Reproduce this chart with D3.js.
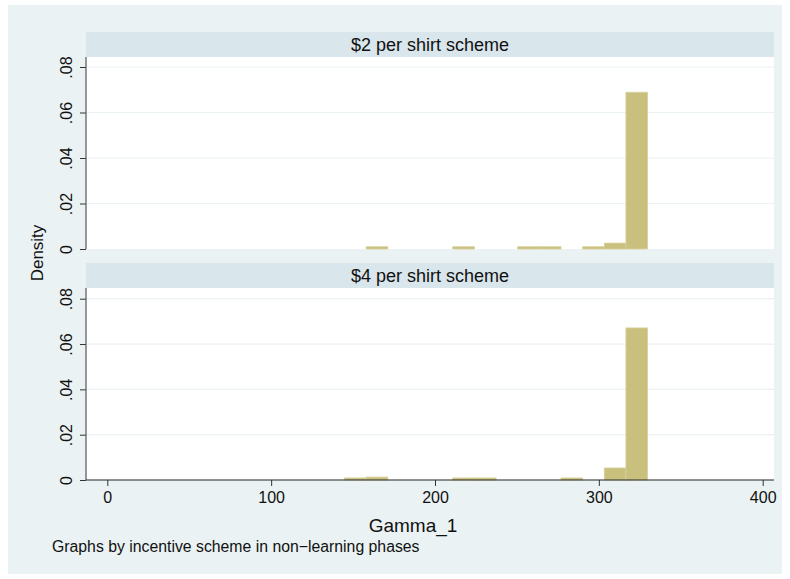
<!DOCTYPE html>
<html>
<head>
<meta charset="utf-8">
<script src="https://cdn.jsdelivr.net/npm/d3@7"></script>
<style>
  body { margin: 0; background: #ffffff; }
  text { font-family: "Liberation Sans", Arial, sans-serif; fill: #111111; }
</style>
</head>
<body>
<div id="chart"></div>
<script>
// histogram bins (Gamma_1), 14 bins starting at binLeft
const binLeft = 144.8;
const binWidth = 13.21;
const panelTitles = ['$2 per shirt scheme', '$4 per shirt scheme'];
const density2 = [0, 0.001, 0, 0, 0, 0.001, 0, 0, 0.001, 0.001, 0, 0.001, 0.0026, 0.0689];
const density4 = [0.0009, 0.0013, 0, 0, 0, 0.0009, 0.0009, 0, 0, 0, 0.0009, 0, 0.0053, 0.0671];
const xTicks = [0, 100, 200, 300, 400];
const yTicks = [0, 0.02, 0.04, 0.06, 0.08];

const width = 790, height = 579;
const bg = '#eaf2f3', strip = '#d9e6eb';
const barFill = '#cac07e', barLine = '#d8d09c';

const svg = d3.select('#chart').append('svg')
    .attr('width', width)
    .attr('height', height);

svg.append('rect')
    .attr('x', 8).attr('y', 5)
    .attr('width', 774).attr('height', 569)
    .attr('fill', bg);

const plotL = 86, plotR = 774;
const x = d3.scaleLinear().domain([0, 400]).range([107.3, 762.7]);

// panel layout: strip top, plot top, zero line, .08 line
const panels = [
    {title: panelTitles[0], data: density2, stripTop: 32, plotTop: 57, y0: 249, y8: 67, xaxis: false},
    {title: panelTitles[1], data: density4, stripTop: 263, plotTop: 288, y0: 480, y8: 298.7, xaxis: true}
];

const fmt = d => d === 0 ? '0' : d3.format('.2f')(d).replace(/^0/, '');

panels.forEach(p => {
    let y = d3.scaleLinear().domain([0, 0.08]).range([p.y0, p.y8]);
    let g = svg.append('g');

    g.append('rect')
        .attr('x', plotL).attr('y', p.stripTop)
        .attr('width', plotR - plotL).attr('height', p.plotTop - p.stripTop)
        .attr('fill', strip);
    g.append('text')
        .attr('x', (plotL + plotR) / 2).attr('y', p.plotTop - 6.5)
        .attr('text-anchor', 'middle')
        .style('font-size', '18px')
        .text(p.title);

    g.append('rect')
        .attr('x', plotL).attr('y', p.plotTop)
        .attr('width', plotR - plotL).attr('height', p.y0 - p.plotTop)
        .attr('fill', '#ffffff');

    // grid
    g.selectAll('.grid').data(yTicks.filter(d => d > 0)).enter()
        .append('line')
        .attr('x1', plotL).attr('x2', plotR)
        .attr('y1', d => y(d)).attr('y2', d => y(d))
        .attr('stroke', bg).attr('stroke-width', 1.2);

    // bars
    let bins = p.data.map((d, i) => ({x0: binLeft + i * binWidth, x1: binLeft + (i + 1) * binWidth, v: d}))
        .filter(b => b.v > 0);
    g.selectAll('.bar').data(bins).enter()
        .append('rect')
        .attr('x', d => x(d.x0))
        .attr('y', d => y(d.v))
        .attr('width', d => x(d.x1) - x(d.x0))
        .attr('height', d => y(0) - y(d.v))
        .attr('fill', barFill)
        .attr('stroke', barLine)
        .attr('stroke-width', 0.8);

    // y axis
    let ya = g.append('g')
        .attr('transform', `translate(${plotL},0)`)
        .call(d3.axisLeft(y).tickValues(yTicks).tickFormat(fmt).tickSize(6).tickPadding(9));
    ya.select('.domain').remove();
    ya.append('line')
        .attr('x1', 0).attr('x2', 0)
        .attr('y1', p.plotTop).attr('y2', p.y0)
        .attr('stroke', '#555').attr('stroke-width', 1.2);
    ya.selectAll('.tick line').attr('stroke', '#333');
    ya.selectAll('.tick text')
        .attr('x', null).attr('dy', null)
        .attr('transform', 'translate(-14,0) rotate(-90)')
        .attr('text-anchor', 'middle')
        .style('font-size', '16px')
        .style('font-family', '"Liberation Sans", Arial, sans-serif')
        .attr('fill', '#111');

    if (p.xaxis) {
        let xa = g.append('g')
            .attr('transform', `translate(0,${p.y0})`)
            .call(d3.axisBottom(x).tickValues(xTicks).tickSize(6).tickPadding(6));
        xa.select('.domain').remove();
        xa.append('line')
            .attr('x1', plotL).attr('x2', plotR)
            .attr('stroke', '#222').attr('stroke-width', 1.2);
        xa.selectAll('.tick line').attr('stroke', '#333');
        xa.selectAll('.tick text')
            .style('font-size', '16px')
            .style('font-family', '"Liberation Sans", Arial, sans-serif')
            .attr('fill', '#111');
    }
});

svg.append('text')
    .attr('transform', 'translate(43,253) rotate(-90)')
    .attr('text-anchor', 'middle')
    .style('font-size', '17px')
    .text('Density');

svg.append('text')
    .attr('x', 413).attr('y', 532)
    .attr('text-anchor', 'middle')
    .style('font-size', '19px')
    .text('Gamma_1');

svg.append('text')
    .attr('x', 52).attr('y', 552)
    .style('font-size', '15.8px')
    .text('Graphs by incentive scheme in non\u2212learning phases');
</script>
</body>
</html>
